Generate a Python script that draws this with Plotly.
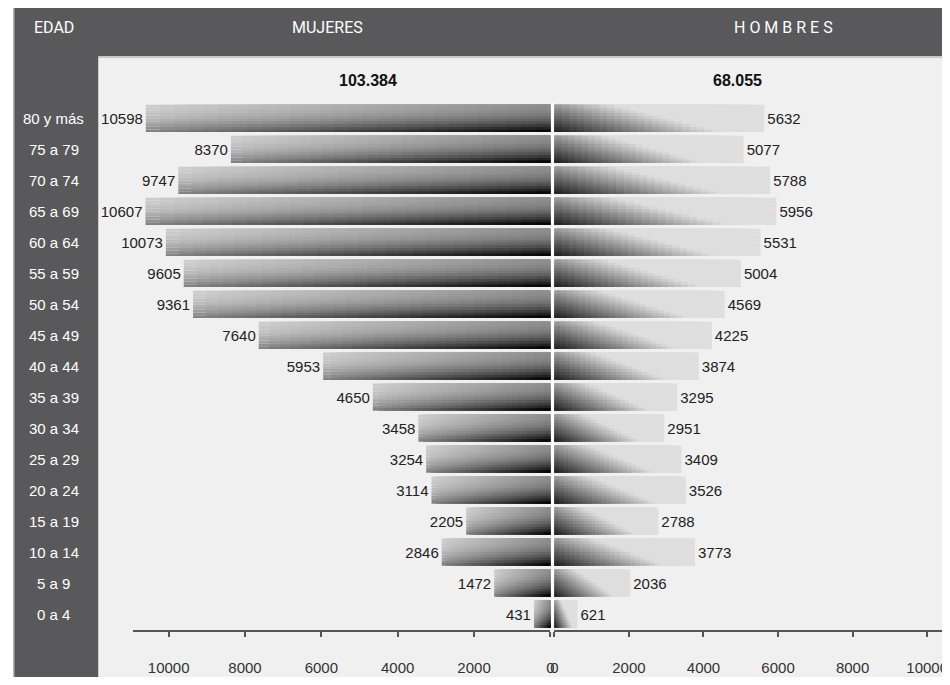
import plotly.graph_objects as go

# ---- data ----
ages = ["0 a 4", "5 a 9", "10 a 14", "15 a 19", "20 a 24", "25 a 29", "30 a 34",
        "35 a 39", "40 a 44", "45 a 49", "50 a 54", "55 a 59", "60 a 64",
        "65 a 69", "70 a 74", "75 a 79", "80 y más"]
mujeres = [431, 1472, 2846, 2205, 3114, 3254, 3458, 4650, 5953, 7640, 9361,
           9605, 10073, 10607, 9747, 8370, 10598]
hombres = [621, 2036, 3773, 2788, 3526, 3409, 2951, 3295, 3874, 4225, 4569,
           5004, 5531, 5956, 5788, 5077, 5632]
total_mujeres = "103.384"
total_hombres = "68.055"
tick_vals = [0, 2000, 4000, 6000, 8000, 10000]
header_edad = "EDAD"
header_mujeres = "MUJERES"
header_hombres = "H O M B R E S"

# the page body has an 8px margin: the figure starts at screen (8, 8)
OFF = 8
W_PX, H_PX = 942, 669
def px(x):
    return (x - OFF) / W_PX
def py(y):
    return (H_PX - (y - OFF)) / H_PX

NUM_FONT = "Liberation Sans, Arial, sans-serif"
HEAD_FONT = "Roboto, Liberation Sans, sans-serif"

BW = 0.88
NH = 28
NV = 10

def clamp(v, a, b):
    return max(a, min(b, v))

def gray(g):
    g = int(round(clamp(g, 0, 255)))
    return f"rgb({g},{g},{g})"

def left_color(c, v):
    g = 205 - 65 * c - (1 - v) ** 2 * (80 + 70 * c)
    return gray(g)

def right_color(c, v):
    d = 1 - c
    D = clamp(1 - 1.25 * d - 0.65 * v, 0, 1)
    return gray(222 - 195 * D)

fig = go.Figure()

for side, vals, axis, cfun in [("L", mujeres, "x", left_color),
                               ("R", hombres, "x2", right_color)]:
    for j in range(NH):
        frac = 1 - j / NH
        c = (j + 0.5) / NH
        xs = [v * frac for v in vals]
        for k in range(NV):
            vpos = (k + 0.5) / NV
            fig.add_trace(go.Bar(
                x=xs, y=ages, orientation="h", xaxis=axis, yaxis="y",
                width=BW / NV, offset=-BW / 2 + k * BW / NV,
                marker=dict(color=cfun(c, vpos), line=dict(width=0)),
                hoverinfo="skip", showlegend=False,
            ))
    fig.add_trace(go.Bar(
        x=vals, y=ages, orientation="h", xaxis=axis, yaxis="y",
        width=BW, offset=-BW / 2,
        marker=dict(color="rgba(0,0,0,0)", line=dict(width=0)),
        text=[str(v) for v in vals], textposition="outside",
        textfont=dict(family=NUM_FONT, size=15, color="#222222"),
        cliponaxis=False, constraintext="none", showlegend=False,
    ))

axis_common = dict(
    tickvals=tick_vals, ticktext=[str(t) for t in tick_vals],
    ticks="outside", ticklen=5, tickcolor="#555555", tickwidth=2,
    showline=True, linecolor="#555555", linewidth=2,
    showgrid=False, zeroline=False, anchor="y",
    tickfont=dict(family=NUM_FONT, size=15, color="#333333"),
    ticklabelstandoff=18, fixedrange=True,
)

y_bot = py(629.5)
y_top = py(103)

fig.update_layout(
    width=W_PX, height=H_PX,
    margin=dict(l=0, r=0, t=0, b=0),
    paper_bgcolor="white", plot_bgcolor="rgba(0,0,0,0)",
    barmode="overlay",
    showlegend=False,
    xaxis=dict(domain=[px(130), px(551)], range=[10935, 0], **axis_common),
    xaxis2=dict(domain=[px(555), 1.0], range=[0, 10505], **axis_common),
    yaxis=dict(domain=[y_bot, y_top], type="category",
               categoryorder="array", categoryarray=ages,
               range=[-0.5, 16.5], showticklabels=False, showgrid=False,
               zeroline=False, showline=False, ticks="", fixedrange=True),
    shapes=[
        # light plot background
        dict(type="rect", xref="paper", yref="paper", x0=px(95), x1=1, y0=0, y1=py(57),
             fillcolor="#f0f0f0", line=dict(width=0), layer="below"),
        # header band
        dict(type="rect", xref="paper", yref="paper", x0=px(10), x1=1, y0=py(57), y1=1,
             fillcolor="#59595b", line=dict(width=0), layer="below"),
        # left column
        dict(type="rect", xref="paper", yref="paper", x0=px(10), x1=px(95), y0=0, y1=py(57),
             fillcolor="#59595b", line=dict(width=0), layer="below"),
        # header bottom light line
        dict(type="line", xref="paper", yref="paper", x0=px(95), x1=1, y0=py(57), y1=py(57),
             line=dict(color="#c8c8c8", width=2), layer="below"),
        # outer border line on the left
        dict(type="line", xref="paper", yref="paper", x0=px(10), x1=px(10), y0=0, y1=1,
             line=dict(color="#9a9a9a", width=1.5), layer="below"),
        # white separator at centre
        dict(type="rect", xref="paper", yref="paper", x0=px(551.5), x1=px(555), y0=y_bot, y1=y_top,
             fillcolor="white", line=dict(width=0), layer="below"),
    ],
)

def ann(text, x, y, font, yref="paper"):
    return dict(text=text, x=x, y=y, xref="paper", yref=yref, showarrow=False,
                xanchor="center", yanchor="middle", font=font)

head_font = dict(family=HEAD_FONT, size=16, color="white")
tot_font = dict(family=NUM_FONT, size=16, color="#111111")
annotations = [
    ann(header_edad, px(50), py(27), head_font),
    ann(header_mujeres, px(326), py(27), head_font),
    ann(header_hombres, px(786), py(27), head_font),
    ann("<b>" + total_mujeres + "</b>", px(367), py(81), tot_font),
    ann("<b>" + total_hombres + "</b>", px(740), py(81), tot_font),
]
for a in ages:
    annotations.append(ann(a, px(50), a,
                           dict(family=NUM_FONT, size=15, color="white"), yref="y"))
fig.update_layout(annotations=annotations)

fig.write_html("out.html")
